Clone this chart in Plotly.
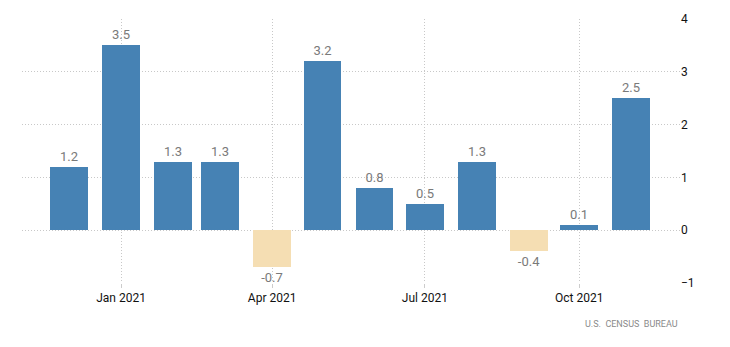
import plotly.graph_objects as go

# Monthly percent change, Dec 2020 - Nov 2021
months = ["2020-12-01", "2021-01-01", "2021-02-01", "2021-03-01", "2021-04-01",
          "2021-05-01", "2021-06-01", "2021-07-01", "2021-08-01", "2021-09-01",
          "2021-10-01", "2021-11-01"]
values = [1.2, 3.5, 1.3, 1.3, -0.7, 3.2, 0.8, 0.5, 1.3, -0.4, 0.1, 2.5]

tick_dates = ["2021-01-01", "2021-04-01", "2021-07-01", "2021-10-01"]
tick_labels = ["Jan 2021", "Apr 2021", "Jul 2021", "Oct 2021"]
y_ticks = [-1, 0, 1, 2, 3, 4]

POS = "#4682B4"
NEG = "#F5DEB3"
colors = [POS if v >= 0 else NEG for v in values]

DAY_MS = 86400000
GRID_DASH = "1px,2px"

fig = go.Figure(go.Bar(
    x=months,
    y=values,
    width=[22.5 * DAY_MS] * len(values),
    marker=dict(color=colors, line=dict(width=0)),
    text=[f"{v:g}" for v in values],
    textposition="outside",
    textfont=dict(family="Roboto", size=13, color="#7a7a7a"),
    cliponaxis=False,
    hoverinfo="x+y",
))

fig.update_layout(
    width=730,
    height=347,
    margin=dict(l=22, r=50, t=19, b=64),
    paper_bgcolor="white",
    plot_bgcolor="white",
    showlegend=False,
    bargap=0,
    xaxis=dict(
        type="date",
        range=["2020-11-03", "2021-11-30"],
        tickvals=tick_dates,
        ticktext=tick_labels,
        showgrid=True,
        gridcolor="#c8c8c8",
        griddash=GRID_DASH,
        gridwidth=1,
        zeroline=False,
        showline=False,
        ticks="outside",
        ticklen=4,
        tickcolor="#cccccc",
        tickfont=dict(family="Roboto", size=12, color="#111111"),
    ),
    yaxis=dict(
        side="right",
        range=[-1, 4],
        tickvals=y_ticks,
        showgrid=True,
        gridcolor="#c8c8c8",
        griddash=GRID_DASH,
        gridwidth=1,
        zeroline=False,
        showline=False,
        ticks="",
        ticklabelstandoff=0,
        tickfont=dict(family="Roboto", size=12, color="#111111"),
    ),
    annotations=[dict(
        text="U.S.  CENSUS  BUREAU",
        xref="paper", yref="paper",
        x=1.0, y=-0.155,
        xanchor="right", yanchor="middle",
        showarrow=False,
        font=dict(family="Roboto", size=9, color="#8a8a8a"),
    )],
)

fig.write_html("out.html")
